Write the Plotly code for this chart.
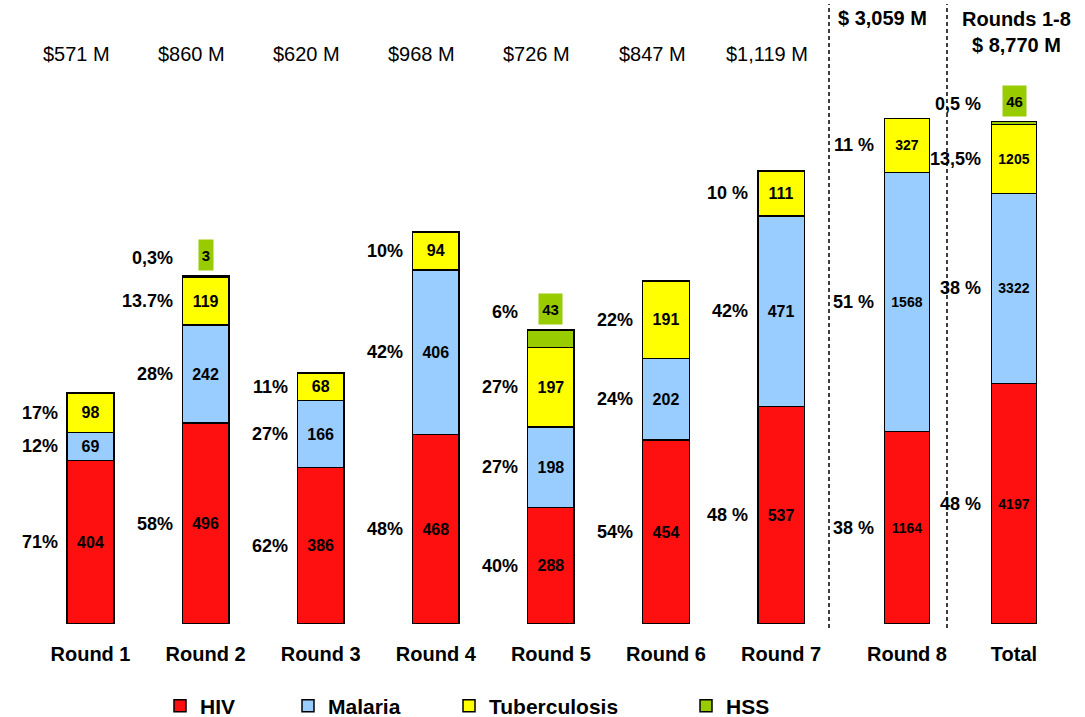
import plotly.graph_objects as go

categories = ['Round 1', 'Round 2', 'Round 3', 'Round 4', 'Round 5', 'Round 6', 'Round 7', 'Round 8', 'Total']
hiv = [404, 496, 386, 468, 288, 454, 537, 1164, 4197]
malaria = [69, 242, 166, 406, 198, 202, 471, 1568, 3322]
tb = [98, 119, 68, 94, 197, 191, 111, 327, 1205]
hss = [0, 3, 0, 0, 43, 0, 0, 0, 46]
hiv_pct = ['71%', '58%', '62%', '48%', '40%', '54%', '48 %', '38 %', '48 %']
malaria_pct = ['12%', '28%', '27%', '42%', '27%', '24%', '42%', '51 %', '38 %']
tb_pct = ['17%', '13.7%', '11%', '10%', '27%', '22%', '10 %', '11 %', '13,5%']
hss_pct = ['', '0,3%', '', '', '6%', '', '', '', '0,5 %']
top_labels = ['$571 M', '$860 M', '$620 M', '$968 M', '$726 M', '$847 M', '$1,119 M',
              '$ 3,059 M', 'Rounds 1-8<br>$ 8,770 M']
series_names = ['HIV', 'Malaria', 'Tuberculosis', 'HSS']

series = [hiv, malaria, tb, hss]
pcts = [hiv_pct, malaria_pct, tb_pct, hss_pct]
colors = ['#ff1010', '#99ccff', '#ffff00', '#99cc00']
FONT = 'Liberation Sans, Arial, sans-serif'

W, H = 1085, 717
PLOT_TOP, PLOT_BOTTOM = 100, 624
PH = PLOT_BOTTOM - PLOT_TOP

# three panels: Rounds 1-7, Round 8, Total (each with its own value scale)
groups = [list(range(0, 7)), [7], [8]]
axes = [('x', 'y'), ('x2', 'y2'), ('x3', 'y3')]
px_per_unit = [0.405, 0.1653, 0.05728]
cat_px = 115.1
centers_px = [90.5, 907, 1014]   # centre of first category of each panel
bar_w = [0.405, 0.39, 0.39]
inner_font = [16, 14, 14]

fig = go.Figure()
legends = ['legend', 'legend2', 'legend3', 'legend4']
for s, vals in enumerate(series):
    for g, idx in enumerate(groups):
        xa, ya = axes[g]
        yv = [vals[i] if vals[i] else None for i in idx]
        txt = [str(vals[i]) if (vals[i] and s < 3) else '' for i in idx]
        fig.add_trace(go.Bar(
            x=[categories[i] for i in idx], y=yv, text=txt,
            name=series_names[s], xaxis=xa, yaxis=ya,
            marker=dict(color=colors[s], line=dict(color='black', width=1.5)),
            width=bar_w[g], textposition='inside', insidetextanchor='middle',
            textangle=0, constraintext='none',
            textfont=dict(family=FONT, size=inner_font[g], color='black', weight='bold'),
            legend=legends[s], showlegend=(g == 0), hoverinfo='skip'))

annotations = []
for i, cat in enumerate(categories):
    g = 0 if i < 7 else (1 if i == 7 else 2)
    xa, ya = axes[g]
    base = 0
    for s, vals in enumerate(series):
        v = vals[i]
        p = pcts[s][i]
        if s < 3:
            if p:
                annotations.append(dict(x=cat, y=base + v / 2, xref=xa, yref=ya, text=p,
                                        showarrow=False, xanchor='right', yanchor='middle',
                                        xshift=-31,
                                        font=dict(family=FONT, size=18, color='black', weight='bold')))
        else:
            if v:
                top = base + v
                annotations.append(dict(x=cat, y=top, xref=xa, yref=ya, text=str(v),
                                        showarrow=False, xanchor='center', yanchor='bottom',
                                        yshift=5, bgcolor=colors[3], borderpad=0,
                                        width=9 * len(str(v)) + 5, height=30,
                                        font=dict(family=FONT, size=15, color='black', weight='bold')))
                if p:
                    annotations.append(dict(x=cat, y=top, xref=xa, yref=ya, text=p,
                                            showarrow=False, xanchor='right', yanchor='bottom',
                                            yshift=6, xshift=-31,
                                            font=dict(family=FONT, size=18, color='black', weight='bold')))
        base += v

# panel totals at the top
for i, cat in enumerate(categories):
    if i < 7:
        annotations.append(dict(x=cat, xref='x', y=(PLOT_BOTTOM - 54) / PH, yref='paper',
                                text=top_labels[i], showarrow=False, xshift=-14, yanchor='middle',
                                font=dict(family=FONT, size=20, color='black')))
    elif i == 7:
        annotations.append(dict(x=cat, xref='x2', y=(PLOT_BOTTOM - 18) / PH, yref='paper',
                                text=top_labels[i], showarrow=False, xshift=-25, yanchor='middle',
                                font=dict(family=FONT, size=20, color='black', weight='bold')))
    else:
        annotations.append(dict(x=cat, xref='x3', y=(PLOT_BOTTOM - 32) / PH, yref='paper',
                                text=top_labels[i], showarrow=False, xshift=2, yanchor='middle',
                                font=dict(family=FONT, size=20, color='black', weight='bold')))

shapes = []
for xp in [829, 947]:
    shapes.append(dict(type='line', xref='paper', yref='paper', x0=xp / W, x1=xp / W,
                       y0=(PLOT_BOTTOM - 628) / PH, y1=(PLOT_BOTTOM - 4) / PH,
                       line=dict(color='black', width=1.5, dash='4px,3px')))

layout = dict(
    width=W, height=H, barmode='stack',
    margin=dict(l=0, r=0, t=PLOT_TOP, b=H - PLOT_BOTTOM),
    paper_bgcolor='white', plot_bgcolor='rgba(0,0,0,0)',
    font=dict(family=FONT, color='black'),
    annotations=annotations, shapes=shapes,
)
for g, idx in enumerate(groups):
    n = len(idx)
    left = centers_px[g] - cat_px / 2
    right = left + n * cat_px
    xa, ya = axes[g]
    xkey = 'xaxis' if g == 0 else 'xaxis%d' % (g + 1)
    ykey = 'yaxis' if g == 0 else 'yaxis%d' % (g + 1)
    layout[xkey] = dict(domain=[left / W, right / W], anchor=ya, type='category',
                        range=[-0.5, n - 0.5], showgrid=False, zeroline=False, showline=False,
                        ticks='', ticklabelstandoff=16, automargin=False,
                        tickfont=dict(family=FONT, size=20, color='black', weight='bold'))
    layout[ykey] = dict(domain=[0, 1], anchor=xa, range=[0, PH / px_per_unit[g]],
                        visible=False, showgrid=False, zeroline=False, automargin=False)

leg_x = [160, 288, 449, 686]
for s, lk in enumerate(legends):
    layout[lk] = dict(x=leg_x[s] / W, xref='container', y=1 - 706 / H, yref='container',
                      xanchor='left', yanchor='middle',
                      orientation='h', bgcolor='rgba(0,0,0,0)',
                      font=dict(family=FONT, size=21, color='black', weight='bold'))

fig.update_layout(**layout)
fig.write_html('out.html', config={'displayModeBar': False},
               post_script="document.body.style.margin='0';document.body.style.overflow='hidden';")
